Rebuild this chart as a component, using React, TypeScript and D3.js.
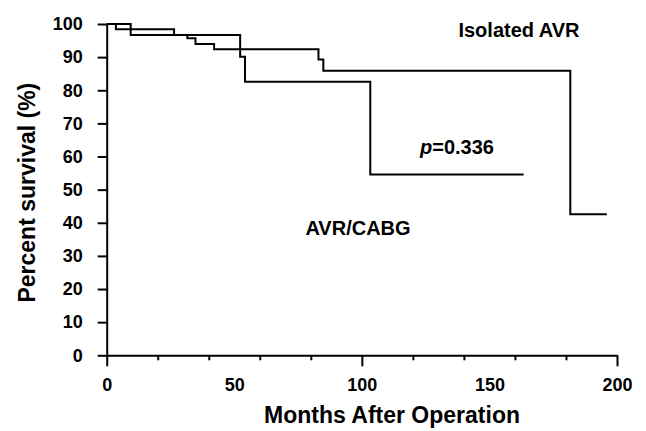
import React, { useRef, useEffect } from "react";
import * as d3 from "d3";

// Kaplan-Meier steps (months, percent surviving)
const isolatedMonths = [0, 3.6, 26.4, 31.6, 34.8, 42.1, 83.0, 84.9, 181.7, 196];
const isolatedSurvival = [100, 98.4, 96.7, 95.7, 94.0, 92.4, 89.3, 85.9, 42.6, 42.6];

const cabgMonths = [0, 9.4, 52.3, 54.2, 103.3, 163.4];
const cabgSurvival = [100, 96.7, 90.1, 82.6, 54.6, 54.6];

const yTicks = [0, 10, 20, 30, 40, 50, 60, 70, 80, 90, 100];
const xLabelTicks = [0, 50, 100, 150, 200];
const xMajorTicks = [0, 100, 200];
const xMinorTicks = [20, 40, 60, 80, 120, 140, 160, 180];

const FONT = "'Liberation Sans', Arial, sans-serif";

const App = () => {
  const svgRef = useRef<SVGSVGElement>(null);
  const width = 646;
  const height = 431;

  useEffect(() => {
    const svg = d3.select(svgRef.current);
    svg.selectAll("*").remove();

    const x = d3.scaleLinear().domain([0, 200]).range([106.7, 617]);
    const y = d3.scaleLinear().domain([0, 100]).range([355.3, 24]);

    const g = svg.append("g").attr("font-family", FONT);

    // y axis
    const yAxis = g
      .append("g")
      .attr("transform", `translate(${x(0)},0)`)
      .call(d3.axisLeft(y).tickValues(yTicks).tickSize(9).tickSizeOuter(0).tickPadding(15));
    yAxis.select(".domain").attr("stroke-width", 2);
    yAxis.selectAll(".tick line").attr("stroke-width", 2);
    yAxis
      .selectAll("text")
      .attr("font-size", 18)
      .attr("font-weight", "bold")
      .attr("font-family", FONT)
      .attr("fill", "#000");

    // x axis: line + ticks of two lengths, labels on their own
    const xMajor = g
      .append("g")
      .attr("transform", `translate(0,${y(0)})`)
      .call(d3.axisBottom(x).tickValues(xMajorTicks).tickSize(11).tickSizeOuter(0).tickFormat(() => ""));
    xMajor.select(".domain").attr("stroke-width", 2);
    xMajor.selectAll(".tick line").attr("stroke-width", 2);

    const xMinor = g
      .append("g")
      .attr("transform", `translate(0,${y(0)})`)
      .call(d3.axisBottom(x).tickValues(xMinorTicks).tickSize(5).tickSizeOuter(0).tickFormat(() => ""));
    xMinor.select(".domain").remove();
    xMinor.selectAll(".tick line").attr("stroke-width", 2);

    const xLabels = g
      .append("g")
      .attr("transform", `translate(0,${y(0)})`)
      .call(d3.axisBottom(x).tickValues(xLabelTicks).tickSize(0).tickPadding(23));
    xLabels.select(".domain").remove();
    xLabels
      .selectAll("text")
      .attr("font-size", 18)
      .attr("font-weight", "bold")
      .attr("font-family", FONT)
      .attr("fill", "#000");

    // survival curves
    const line = d3
      .line<[number, number]>()
      .x((d) => x(d[0]))
      .y((d) => y(d[1]))
      .curve(d3.curveStepAfter);

    const isolated = isolatedMonths.map((m, i) => [m, isolatedSurvival[i]] as [number, number]);
    const cabg = cabgMonths.map((m, i) => [m, cabgSurvival[i]] as [number, number]);

    [isolated, cabg].forEach((pts) => {
      g.append("path")
        .attr("d", line(pts))
        .attr("fill", "none")
        .attr("stroke", "#000")
        .attr("stroke-width", 2);
    });

    // annotations
    g.append("text")
      .attr("x", 519)
      .attr("y", 37)
      .attr("text-anchor", "middle")
      .attr("font-size", 20)
      .attr("font-weight", "bold")
      .text("Isolated AVR");

    g.append("text")
      .attr("x", 358)
      .attr("y", 235)
      .attr("text-anchor", "middle")
      .attr("font-size", 20)
      .attr("font-weight", "bold")
      .text("AVR/CABG");

    const pText = g
      .append("text")
      .attr("x", 457)
      .attr("y", 154)
      .attr("text-anchor", "middle")
      .attr("font-size", 20)
      .attr("font-weight", "bold");
    pText.append("tspan").attr("font-style", "italic").text("p");
    pText.append("tspan").text("=0.336");

    // axis titles
    g.append("text")
      .attr("transform", `translate(35,${(y(0) + y(100)) / 2 + 3}) rotate(-90)`)
      .attr("text-anchor", "middle")
      .attr("font-size", 23)
      .attr("font-weight", "bold")
      .text("Percent survival (%)");

    g.append("text")
      .attr("x", 392)
      .attr("y", 423)
      .attr("text-anchor", "middle")
      .attr("font-size", 23)
      .attr("font-weight", "bold")
      .text("Months After Operation");
  }, []);

  return (
    <div style={{ position: "absolute", left: 0, top: 0 }}>
      <svg ref={svgRef} width={width} height={height} style={{ display: "block", background: "#fff" }}></svg>
    </div>
  );
};

export default App;
